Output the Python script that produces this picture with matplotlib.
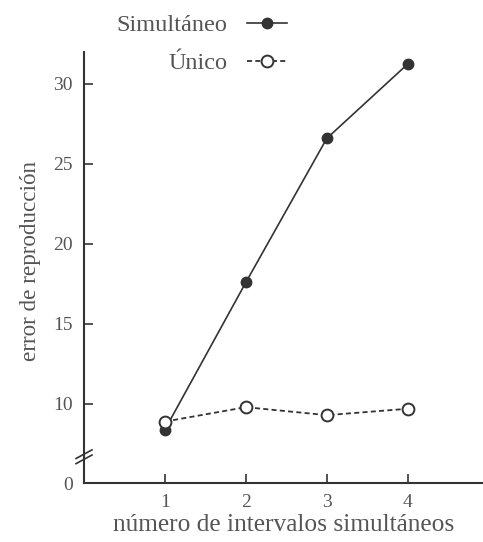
import numpy as np
import matplotlib.pyplot as plt

# reproduction error vs number of simultaneous intervals
intervalos = [1, 2, 3, 4]
simultaneo = [8.4, 17.6, 26.6, 31.25]
unico = [8.9, 9.8, 9.3, 9.7]

# y axis is broken below 10: the bottom of the axis stands for 0
y_cero = 5.06
y_ticks = [y_cero, 10, 15, 20, 25, 30]
y_labels = ['0', '10', '15', '20', '25', '30']
x_ticks = [1, 2, 3, 4]

plt.rcParams['font.family'] = ['Liberation Serif', 'DejaVu Serif']
texto = '#555555'
linea = '#333333'

fig = plt.figure(figsize=(4.83, 5.42), dpi=100)
ax = fig.add_axes([84 / 483, 59 / 542, 399 / 483, 431 / 542])

ax.plot(intervalos, simultaneo, color=linea, lw=1.2, marker='o', ms=7.5,
        mfc=linea, mec=linea, label='Simultáneo', zorder=3)
ax.plot(intervalos, unico, color=linea, lw=1.3, ls=(0, (2.8, 1.8)), marker='o', ms=8.5,
        mfc='white', mec=linea, mew=1.4, label='Único', zorder=4)

ax.set_xlim(0, 4.93)
ax.set_ylim(y_cero, 32)
ax.set_xticks(x_ticks)
ax.set_yticks(y_ticks)
ax.set_yticklabels(y_labels)

for s in ['top', 'right']:
    ax.spines[s].set_visible(False)
for s in ['left', 'bottom']:
    ax.spines[s].set_linewidth(1.5)
    ax.spines[s].set_color(linea)

ax.tick_params(direction='in', length=6.5, width=1.2, color=linea,
               labelsize=14, labelcolor=texto, pad=8)

ax.set_xlabel('número de intervalos simultáneos', fontsize=18.3, color=texto, labelpad=2)
ax.set_ylabel('error de reproducción', fontsize=16.7, color=texto)
ax.yaxis.set_label_coords(-0.108, 0.515)

# break marks on the y axis
yb = ax.transAxes.inverted().transform(ax.transData.transform((0, 6.7)))[1]
for off in (-0.006, 0.006):
    ax.plot([-0.02, 0.02], [yb + off - 0.01, yb + off + 0.01], transform=ax.transAxes,
            color=linea, lw=1.2, clip_on=False)

leg = fig.legend(loc='upper right', bbox_to_anchor=(0.619, 0.996), frameon=False,
                 markerfirst=False, fontsize=17.5, handlelength=1.65,
                 handletextpad=0.8, labelspacing=0.65, borderaxespad=0.1)
for t in leg.get_texts():
    t.set_color(texto)

fig.savefig('out.png', dpi=100)
